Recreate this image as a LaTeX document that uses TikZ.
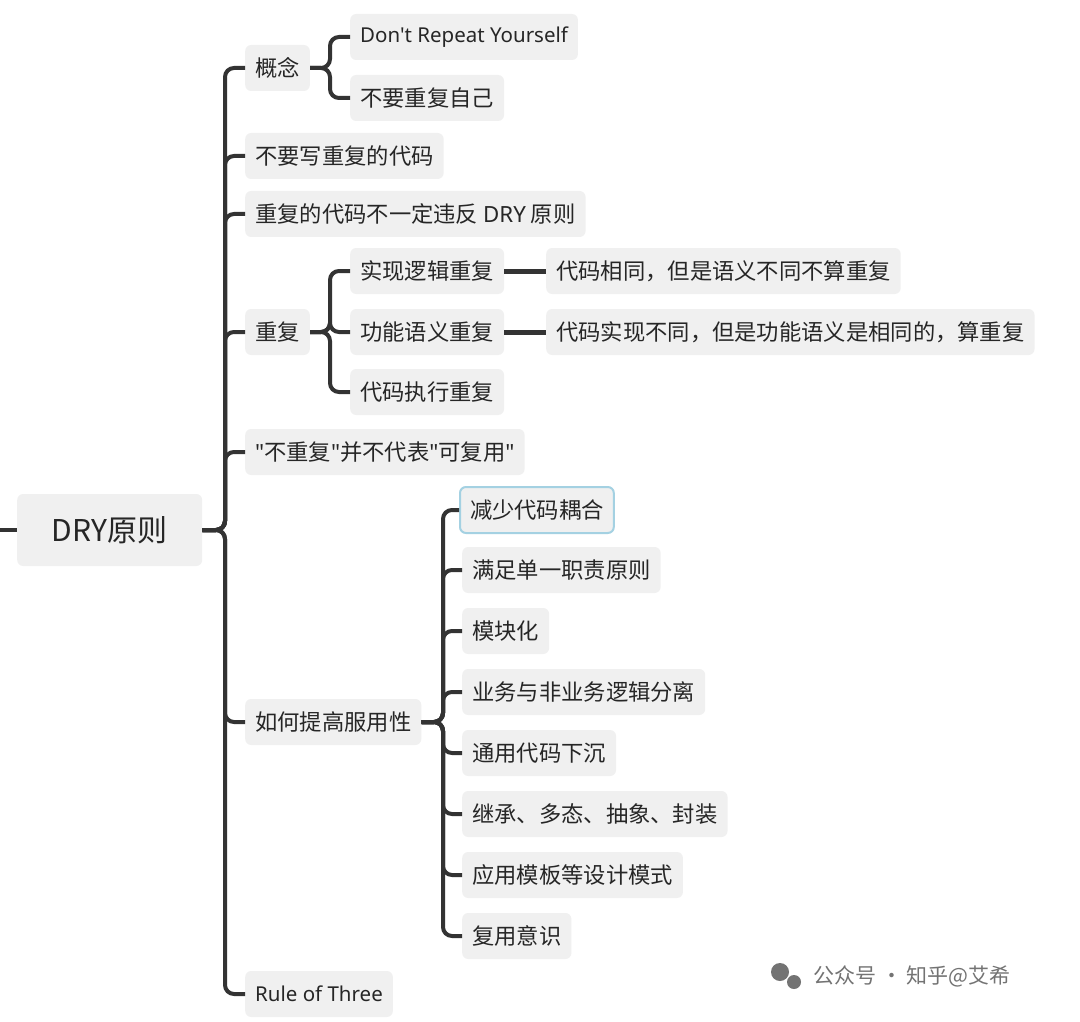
\documentclass[tikz,border=0pt]{standalone}
\usepackage{fontspec}
\setmainfont{Noto Sans CJK SC}
\newfontfamily\lat{Noto Sans}
\begin{document}
\begin{tikzpicture}[x=1pt,y=-1pt,
  box/.style={anchor=west,fill=black!6,rounded corners=6pt,minimum height=46pt,inner xsep=10pt,font=\fontsize{22.3}{25}\selectfont,text=black!85},
  ln/.style={draw=black!80,line width=4pt,rounded corners=9pt},
  hl/.style={draw=cyan!45!teal!40,line width=2pt}]
\useasboundingbox (0,0) rectangle (1080,1022);
\fill[white] (0,0) rectangle (1080,1022);
\node[box,minimum width=185pt,minimum height=72pt,font=\fontsize{30}{34}\selectfont] (root) at (17,530) {DRY原则};
\coordinate (l) at (0,530);
\draw[ln] (l) -- (root.west);
% level 1
\node[box] (a) at (245,68) {概念};
\node[box] (b) at (245,156) {不要写重复的代码};
\node[box] (c) at (245,214) {重复的代码不一定违反 {\lat DRY} 原则};
\node[box] (d) at (245,332) {重复};
\node[box] (e) at (245,452) {{\lat "}不重复{\lat "}并不代表{\lat "}可复用{\lat "}};
\node[box] (f) at (245,722) {如何提高服用性};
\node[box,font=\lat\fontsize{20.5}{24}\selectfont] (g) at (245,994) {Rule of Three};
\foreach \n in {a,b,c,d,e,f,g} \draw[ln] (root.east) -- (225,530) |- (\n.west);
% 概念
\node[box,font=\lat\fontsize{20.5}{24}\selectfont] (a1) at (350,37) {Don't Repeat Yourself};
\node[box] (a2) at (350,98) {不要重复自己};
\foreach \n in {a1,a2} \draw[ln] (a.east) -- (330,68) |- (\n.west);
% 重复
\node[box] (d1) at (350,271) {实现逻辑重复};
\node[box] (d2) at (350,332) {功能语义重复};
\node[box] (d3) at (350,392) {代码执行重复};
\foreach \n in {d1,d2,d3} \draw[ln] (d.east) -- (330,332) |- (\n.west);
\node[box] (d1a) at (546,271) {代码相同，但是语义不同不算重复};
\node[box] (d2a) at (546,332) {代码实现不同，但是功能语义是相同的，算重复};
\draw[ln,line width=5pt] (d1.east) -- (d1a.west);
\draw[ln,line width=5pt] (d2.east) -- (d2a.west);
% 如何
\node[box,hl] (f1) at (459,510) {减少代码耦合};
\node[box] (f2) at (462,570) {满足单一职责原则};
\node[box] (f3) at (462,631) {模块化};
\node[box] (f4) at (462,692) {业务与非业务逻辑分离};
\node[box] (f5) at (462,753) {通用代码下沉};
\node[box] (f6) at (462,814) {继承、多态、抽象、封装};
\node[box] (f7) at (462,875) {应用模板等设计模式};
\node[box] (f8) at (462,936) {复用意识};
\foreach \n in {f1,f2,f3,f4,f5,f6,f7,f8} \draw[ln] (f.east) -- (443,722) |- (\n.west);
% watermark
\node[text=black!55,font=\fontsize{21}{24}\selectfont,anchor=west] (w) at (810,976) {公众号 · 知乎@艾希};
\fill[black!55] (780,972) circle (9pt) (794,982) circle (7pt);
\end{tikzpicture}
\end{document}
